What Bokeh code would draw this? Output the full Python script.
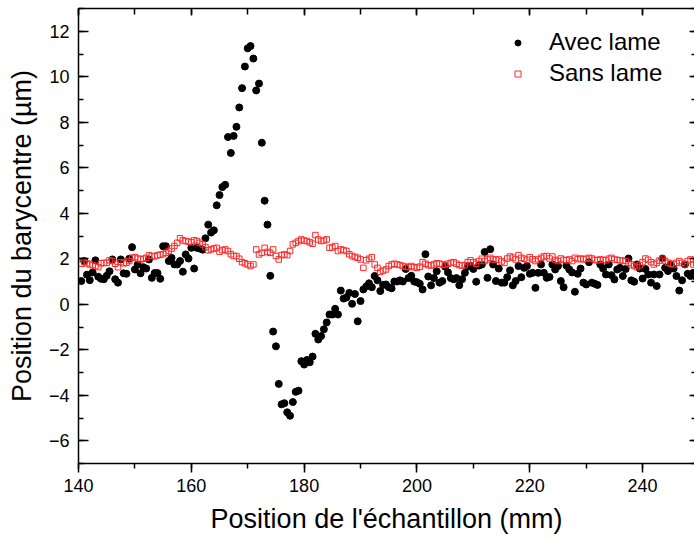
from bokeh.plotting import figure
from bokeh.models import Range1d, LinearAxis, SingleIntervalTicker, CustomJSTickFormatter
from bokeh.embed import file_html
from bokeh.resources import INLINE

# sample positions (mm): 140.5, 141.0, ... step 0.5
x_start = 140.5
x_step = 0.5

avec_lame = [
    1.02, 1.90, 1.30, 1.06, 1.40, 1.93, 1.21, 1.12, 1.10, 1.25,        # 140.5-145.0
    1.45, 1.97, 1.10, 0.95, 1.97, 1.36, 1.34, 2.00, 2.51, 1.53,        # 145.5-150.0
    1.75, 1.36, 1.63, 1.57, 1.97, 1.16, 1.37, 1.37, 1.12, 2.55,        # 150.5-155.0
    2.55, 1.90, 2.04, 1.75, 1.75, 1.90, 1.43, 2.19, 2.01, 2.48,        # 155.5-160.0
    1.57, 2.48, 2.45, 2.40, 2.90, 3.50, 3.15, 3.25, 4.35, 4.80,        # 160.5-165.0
    5.15, 5.25, 7.35, 6.65, 7.40, 7.80, 8.65, 9.50, 10.45, 11.25,      # 165.5-170.0
    11.35, 10.80, 9.40, 9.70, 7.10, 4.55, 3.50, 1.25, -1.20, -1.85,    # 170.5-175.0
    -3.50, -4.40, -4.35, -4.75, -4.90, -4.30, -3.85, -3.80, -2.50, -2.65,  # 175.5-180.0
    -2.45, -2.55, -2.30, -1.30, -1.55, -1.40, -1.10, -0.80, -0.45, -0.45,  # 180.5-185.0
    -0.20, -0.45, 0.60, 0.25, 0.30, 0.50, 0.02, 0.45, -0.75, 0.14,     # 185.5-190.0
    0.65, 0.78, 0.92, 0.75, 1.24, 1.05, 0.58, 0.85, 0.87, 0.75,        # 190.5-195.0
    0.70, 1.00, 1.00, 1.05, 1.00, 1.55, 1.15, 1.25, 1.00, 0.97,        # 195.5-200.0
    0.90, 0.65, 2.20, 1.22, 0.83, 1.15, 1.45, 0.95, 1.02, 1.65,        # 200.5-205.0
    1.40, 1.15, 1.10, 1.15, 0.84, 1.10, 1.38, 1.65, 1.68, 1.55,        # 205.5-210.0
    0.99, 1.70, 1.75, 2.30, 1.16, 2.42, 1.75, 1.02, 1.57, 0.95,        # 210.5-215.0
    0.95, 1.19, 1.49, 0.83, 1.02, 1.68, 1.19, 1.60, 1.68, 1.34,        # 215.5-220.0
    1.38, 0.72, 1.38, 1.75, 1.38, 1.16, 1.20, 1.75, 1.53, 1.68,        # 220.5-225.0
    1.02, 0.75, 1.70, 1.53, 1.40, 0.55, 1.34, 1.57, 0.95, 0.87,        # 225.5-230.0
    1.85, 0.95, 0.90, 0.85, 1.75, 1.57, 1.31, 1.75, 1.28, 1.09,        # 230.5-235.0
    1.53, 1.60, 1.24, 1.55, 2.01, 1.05, 0.99, 1.75, 1.57, 1.13,        # 235.5-240.0
    1.55, 1.31, 0.95, 1.31, 0.80, 1.31, 2.01, 1.60, 1.46, 1.75,        # 240.5-245.0
    1.57, 1.24, 0.60, 1.05, 1.75, 1.34, 1.24, 1.38, 1.20,              # 245.5-249.5
]

sans_lame = [
    1.78, 1.85, 1.80, 1.75, 1.72, 1.68, 1.63, 1.80, 1.82, 1.82,        # 140.5-145.0
    1.93, 1.90, 1.78, 1.63, 1.85, 1.80, 1.82, 1.90, 2.04, 2.07,        # 145.5-150.0
    2.01, 1.97, 2.00, 2.04, 2.15, 2.12, 2.10, 2.15, 2.18, 2.20,        # 150.5-155.0
    2.26, 2.34, 2.45, 2.56, 2.70, 2.90, 2.81, 2.78, 2.75, 2.72,        # 155.5-160.0
    2.81, 2.78, 2.70, 2.63, 2.51, 2.37, 2.41, 2.45, 2.48, 2.31,        # 160.5-165.0
    2.38, 2.41, 2.34, 2.20, 2.12, 2.12, 2.00, 1.85, 1.80, 1.75,        # 165.5-170.0
    1.68, 1.75, 2.41, 2.19, 2.26, 2.48, 2.30, 2.26, 2.41, 2.12,        # 170.5-175.0
    1.97, 2.16, 2.19, 2.16, 2.34, 2.63, 2.70, 2.78, 2.85, 2.80,        # 175.5-180.0
    2.78, 2.72, 2.66, 3.04, 2.85, 2.78, 2.80, 2.85, 2.48, 2.50,        # 180.5-185.0
    2.56, 2.34, 2.41, 2.38, 2.34, 2.20, 2.12, 2.08, 2.04, 1.97,        # 185.5-190.0
    1.60, 1.93, 2.00, 2.07, 1.75, 1.60, 1.43, 1.48, 1.53, 1.68,        # 190.5-195.0
    1.75, 1.78, 1.75, 1.72, 1.68, 1.65, 1.63, 1.68, 1.63, 1.60,        # 195.5-200.0
    1.65, 1.85, 1.78, 1.72, 1.70, 1.75, 1.80, 1.78, 1.75, 1.72,        # 200.5-205.0
    1.78, 1.82, 1.85, 1.78, 1.72, 1.70, 1.72, 1.85, 1.93, 1.85,        # 205.5-210.0
    1.78, 1.90, 2.00, 1.90, 1.97, 2.04, 1.97, 1.95, 1.97, 1.88,        # 210.5-215.0
    1.82, 2.01, 2.10, 2.05, 1.97, 2.16, 2.04, 2.00, 1.95, 2.07,        # 215.5-220.0
    1.98, 1.90, 1.97, 2.04, 2.10, 2.12, 2.01, 2.10, 1.95, 1.90,        # 220.5-225.0
    2.01, 1.95, 1.93, 1.97, 1.90, 2.04, 1.98, 2.01, 1.97, 2.00,        # 225.5-230.0
    2.04, 2.01, 1.95, 1.93, 1.97, 1.95, 1.93, 2.00, 2.04, 1.97,        # 230.5-235.0
    1.95, 1.93, 1.92, 1.90, 1.82, 1.75, 1.68, 1.63, 1.72, 1.85,        # 235.5-240.0
    2.01, 1.95, 1.85, 1.75, 1.82, 1.92, 2.00, 1.90, 1.82, 1.78,        # 240.5-245.0
    1.75, 1.82, 1.90, 1.82, 1.75, 1.90, 1.97, 1.75, 1.80,              # 245.5-249.5
]

x_pos = [x_start + x_step * i for i in range(len(avec_lame))]

x_label = "Position de l'échantillon (mm)"
y_label = "Position du barycentre (µm)"
FONT = "Liberation Sans"

p = figure(width=694, height=540,
           x_range=Range1d(140, 249.2), y_range=Range1d(-7, 13),
           output_backend="svg", toolbar_location=None,
           min_border_left=78, min_border_right=0,
           min_border_top=8, min_border_bottom=77)
p.outline_line_color = None
p.xgrid.visible = False
p.ygrid.visible = False
p.background_fill_color = "white"
p.border_fill_color = "white"

xt = SingleIntervalTicker(interval=20, num_minor_ticks=2)
yt = SingleIntervalTicker(interval=2, num_minor_ticks=2)

def style(ax):
    ax.axis_line_width = 1.5
    ax.major_tick_line_width = 1.5
    ax.minor_tick_line_width = 1.5
    ax.major_label_text_font = FONT
    ax.major_label_text_font_size = "18px"
    ax.major_label_text_color = "black"
    ax.axis_label_text_font = FONT
    ax.axis_label_text_font_style = "normal"
    ax.axis_label_text_font_size = "27px"
    ax.axis_label_text_color = "black"

def mirror(ax):
    # tick-only mirror axis: no tick labels at all
    ax.formatter = CustomJSTickFormatter(code="return '';")
    ax.major_label_text_font_size = "1px"
    ax.major_label_standoff = 0
    ax.major_tick_out = 0
    ax.minor_tick_out = 0

xb = p.xaxis[0]
xb.ticker = xt
style(xb)
xb.major_tick_out = 9
xb.major_tick_in = 0
xb.minor_tick_out = 5
xb.minor_tick_in = 0
xb.major_label_standoff = 6
xb.axis_label = x_label
xb.axis_label_standoff = 9

yl = p.yaxis[0]
yl.ticker = yt
style(yl)
yl.major_tick_in = 10
yl.major_tick_out = 0
yl.minor_tick_in = 5
yl.minor_tick_out = 0
yl.major_label_standoff = 9
yl.axis_label = y_label
yl.axis_label_standoff = 9

top = LinearAxis(ticker=xt)
style(top)
mirror(top)
top.major_tick_in = 7
top.minor_tick_in = 6
p.add_layout(top, "above")

right = LinearAxis(ticker=yt)
style(right)
mirror(right)
right.axis_line_color = None
right.major_tick_in = 5
right.minor_tick_in = 3
p.add_layout(right, "right")

p.scatter(x_pos, avec_lame, size=7, color="black", legend_label="Avec lame")
p.scatter(x_pos, sans_lame, marker="square", size=5.5, fill_color=None,
          line_color="#ff2a2a", line_width=1, legend_label="Sans lame")

lg = p.legend[0]
lg.location = "top_right"
lg.border_line_color = None
lg.background_fill_alpha = 0
lg.label_text_font = FONT
lg.label_text_font_size = "24px"
lg.label_text_color = "black"
lg.glyph_width = 15
lg.glyph_height = 15
lg.label_standoff = 24
lg.label_width = 125
lg.label_height = 27
lg.spacing = 3
lg.padding = 0
lg.margin = 20

open("out.html", "w").write(file_html(p, INLINE))
